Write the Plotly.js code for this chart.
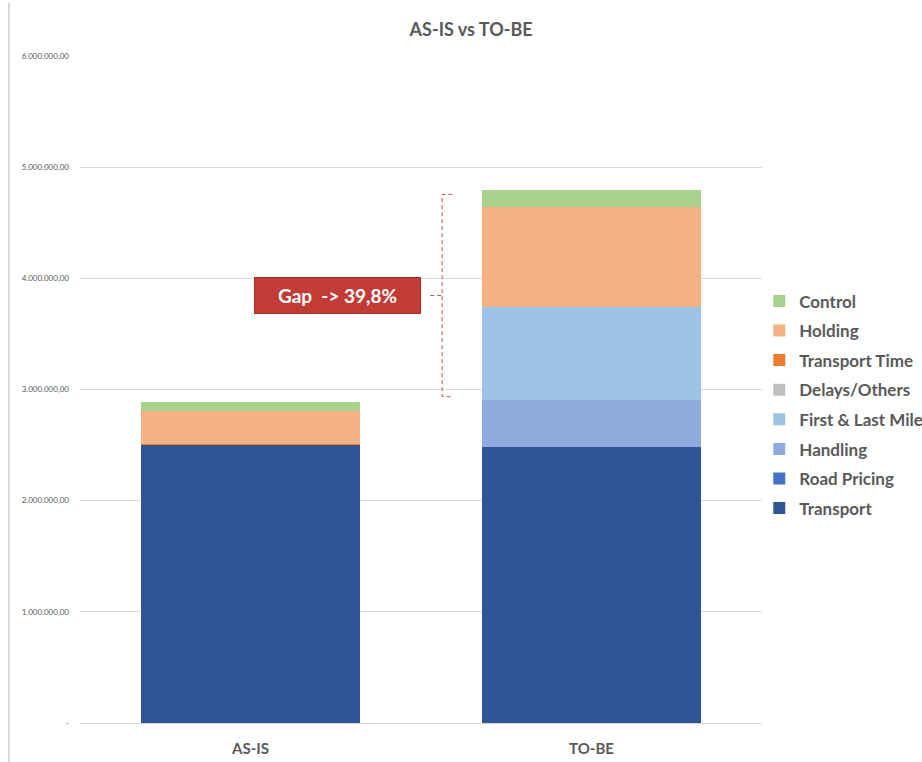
<!DOCTYPE html>
<html><head><meta charset="utf-8">
<script src="https://cdn.plot.ly/plotly-3.0.1.min.js"></script>
<style>body{margin:0;background:#fff}#chart{width:922px;height:762px}</style>
</head><body><div id="chart"></div>
<script>
const categories = ["AS-IS", "TO-BE"];
const seriesNames = ["Transport", "Road Pricing", "Handling", "First & Last Mile", "Delays/Others", "Transport Time", "Holding", "Control"];
const transport     = [2500000, 2480000];
const roadPricing   = [0, 0];
const handling      = [0, 423000];
const firstLastMile = [0, 836000];
const delaysOthers  = [0, 0];
const transportTime = [8000, 0];
const holding       = [299000, 906000];
const control       = [78000, 150000];
const seriesColors = ["#2F5597", "#4472C4", "#8FAADC", "#9DC3E6", "#BFBFBF", "#ED7D31", "#F4B183", "#A9D18E"];
const tickVals = [0, 1000000, 2000000, 3000000, 4000000, 5000000, 6000000];
const tickText = ["-", "1.000.000,00", "2.000.000,00", "3.000.000,00", "4.000.000,00", "5.000.000,00", "6.000.000,00"];
const gapLabel = "Gap  -> 39,8%";

const values = [transport, roadPricing, handling, firstLastMile, delaysOthers, transportTime, holding, control];
const traces = seriesNames.map((n, i) => ({
  type: "bar", name: n, x: categories, y: values[i],
  marker: {color: seriesColors[i], line: {width: 0}},
  legendgroup: "g" + i, legendrank: 100 - i, hoverinfo: "skip", showlegend: true
}));
const totals = categories.map((c, j) => values.reduce((s, v) => s + v[j], 0));
const gTop = Math.max(...totals) - 40000, gBot = Math.min(...totals) + 50000;
const gMid = (gTop + gBot) / 2;
const bx = 0.562;
const red = "#C0504D";
const layout = {
  width: 922, height: 762,
  margin: {l: 80, r: 160, t: 56, b: 39, autoexpand: false},
  paper_bgcolor: "#fff", plot_bgcolor: "#fff",
  barmode: "stack", bargap: 0.36,
  font: {family: "Lato, 'Open Sans', sans-serif", color: "#595959"},
  title: {text: "<b>AS-IS vs TO-BE</b>", x: 0.511, xref: "container", y: 0.961, yref: "container", yanchor: "middle",
          font: {size: 18, color: "#595959", family: "Lato, sans-serif"}},
  xaxis: {type: "category", range: [-0.5, 1.5], showgrid: false, zeroline: false, showline: false,
          ticks: "", tickfont: {size: 15, color: "#595959"}, ticklabelstandoff: 15,
          tickvals: categories, ticktext: categories.map(c => "<b>" + c + "</b>")},
  yaxis: {range: [0, 6000000], tickvals: tickVals, ticktext: tickText, showgrid: true,
          gridcolor: "#D9D9D9", gridwidth: 1, zeroline: true, zerolinecolor: "#D9D9D9",
          showline: false, ticks: "", tickfont: {size: 8, color: "#595959"}, ticklabelstandoff: 10},
  legend: {x: 0.996, xanchor: "left", y: 0.477, yanchor: "middle", traceorder: "grouped",
           tracegroupgap: 4.5, font: {size: 17, color: "#595959", weight: "bold"}, bgcolor: "rgba(0,0,0,0)"},
  shapes: [
    {type: "path", xref: "x", yref: "y",
     path: `M ${bx + 0.03} ${gTop} L ${bx} ${gTop} L ${bx} ${gBot} L ${bx + 0.03} ${gBot}`,
     line: {color: red, width: 1, dash: "4px,3px"}},
    {type: "line", xref: "x", yref: "y", x0: bx - 0.035, x1: bx, y0: gMid, y1: gMid,
     line: {color: red, width: 1, dash: "4px,3px"}},
    {type: "line", xref: "paper", yref: "paper", x0: -0.104, x1: -0.104, y0: -0.06, y1: 1.08,
     line: {color: "#D9D9D9", width: 2}}
  ],
  annotations: [
    {xref: "x", yref: "y", x: 0.255, y: gMid, text: "<b>" + gapLabel + "</b>", showarrow: false,
     font: {size: 19, color: "#fff", family: "Lato, sans-serif"}, bgcolor: "#C23B36",
     bordercolor: "#A8302C", borderwidth: 1, width: 163, height: 33, align: "center", valign: "middle"}
  ]
};
Plotly.newPlot("chart", traces, layout, {displayModeBar: false, staticPlot: true});
</script></body></html>
